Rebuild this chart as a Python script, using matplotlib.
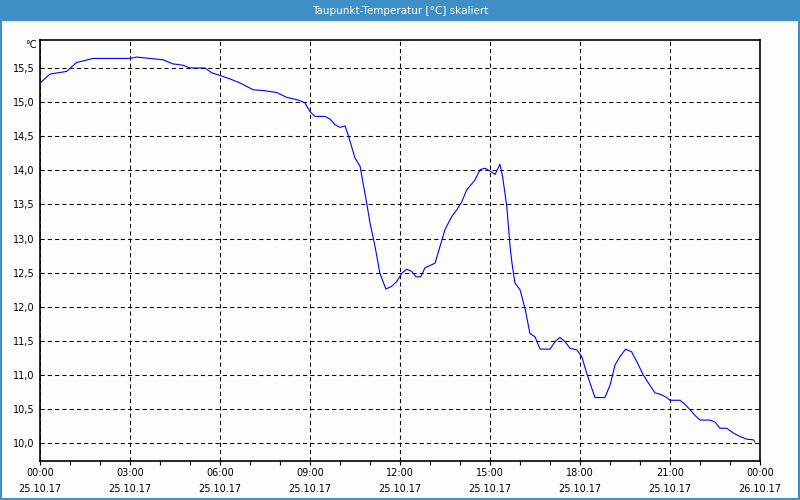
import numpy as np
import matplotlib
matplotlib.use('Agg')
import matplotlib.pyplot as plt
from matplotlib.patches import Rectangle

# hours since 25.10.17 00:00 and dew point in degC
hours = [0.00, 0.33, 0.89, 1.22, 1.77, 3.00, 3.22, 4.10, 4.43, 4.77,
         5.00, 5.50, 5.72, 6.00, 6.33, 6.67, 7.11, 7.44, 7.89, 8.22,
         8.61, 8.83, 9.00, 9.17, 9.50, 9.67, 9.83, 10.00, 10.17, 10.27,
         10.50, 10.67, 10.77, 10.89, 11.00, 11.17, 11.33, 11.53, 11.72, 11.89,
         12.06, 12.22, 12.39, 12.53, 12.69, 12.83, 13.17, 13.33, 13.50, 13.72,
         13.89, 14.06, 14.22, 14.50, 14.67, 14.83, 15.00, 15.17, 15.33, 15.42,
         15.56, 15.67, 15.73, 15.83, 16.00, 16.17, 16.33, 16.50, 16.67, 17.00,
         17.17, 17.33, 17.50, 17.67, 17.89, 18.06, 18.22, 18.50, 18.83, 19.00,
         19.17, 19.33, 19.52, 19.72, 19.89, 20.11, 20.33, 20.50, 20.72, 20.89,
         21.00, 21.33, 21.50, 21.67, 21.83, 22.00, 22.33, 22.50, 22.67, 22.89,
         23.11, 23.33, 23.56, 23.78, 23.83]
taupunkt = [15.28, 15.41, 15.45, 15.58, 15.64, 15.64, 15.66, 15.62, 15.56, 15.54,
            15.50, 15.50, 15.43, 15.39, 15.34, 15.28, 15.18, 15.17, 15.14, 15.07,
            15.03, 14.99, 14.86, 14.79, 14.79, 14.75, 14.67, 14.63, 14.65, 14.52,
            14.18, 14.06, 13.81, 13.52, 13.23, 12.88, 12.49, 12.26, 12.30, 12.37,
            12.49, 12.55, 12.52, 12.44, 12.44, 12.57, 12.64, 12.88, 13.13, 13.32,
            13.42, 13.54, 13.71, 13.86, 14.01, 14.03, 13.99, 13.94, 14.09, 13.91,
            13.47, 12.88, 12.65, 12.35, 12.25, 11.97, 11.61, 11.56, 11.38, 11.38,
            11.49, 11.55, 11.49, 11.39, 11.37, 11.27, 11.03, 10.67, 10.67, 10.85,
            11.15, 11.27, 11.38, 11.34, 11.20, 11.00, 10.85, 10.74, 10.71, 10.67,
            10.63, 10.63, 10.57, 10.49, 10.41, 10.34, 10.34, 10.31, 10.22, 10.22,
            10.15, 10.10, 10.06, 10.05, 10.02]

tick_hours = [0, 3, 6, 9, 12, 15, 18, 21, 24]
tick_labels = ['00:00\n25.10.17', '03:00\n25.10.17', '06:00\n25.10.17',
               '09:00\n25.10.17', '12:00\n25.10.17', '15:00\n25.10.17',
               '18:00\n25.10.17', '21:00\n25.10.17', '00:00\n26.10.17']
y_ticks = np.arange(10.0, 15.51, 0.5)

blue_bar = '#3d8fc6'
bg = '#fcfefc'

fig = plt.figure(figsize=(8, 5), dpi=100, facecolor=bg)
# title bar and frame
fig.patches.append(Rectangle((0, 0.96), 1, 0.04, transform=fig.transFigure,
                             color=blue_bar, zorder=0))
fig.patches.append(Rectangle((0.001, 0.002), 0.998, 0.96, transform=fig.transFigure,
                             fill=False, edgecolor=blue_bar, lw=1.5, zorder=0))
fig.text(0.5, 0.979, 'Taupunkt-Temperatur [°C] skaliert', color='white',
         ha='center', va='center', fontsize=7.5)

ax = fig.add_axes([0.05, 0.078, 0.90, 0.842])
ax.set_facecolor(bg)
ax.plot(hours, taupunkt, color='#0000ff', lw=0.8, zorder=3)

ax.set_xlim(0, 24)
ax.set_ylim(9.74, 15.91)
ax.set_xticks(tick_hours)
ax.set_xticklabels(tick_labels, fontsize=7, linespacing=1.75)
ax.set_xticks(np.arange(0, 25, 1), minor=True)
ax.set_yticks(y_ticks)
ax.set_yticklabels([f'{v:.1f}'.replace('.', ',') for v in y_ticks], fontsize=7)
ax.tick_params(axis='x', which='both', length=3, width=0.8, direction='out', pad=2)
ax.tick_params(axis='y', length=0, pad=4)

ax.grid(True, which='major', color='black', lw=0.75, ls=(0, (4, 3)))
for s in ax.spines.values():
    s.set_linewidth(1.2)

ax.text(-0.004, 1.0, '°C', transform=ax.transAxes, ha='right', va='top', fontsize=7)

fig.savefig('out.png', dpi=100, facecolor=bg)
